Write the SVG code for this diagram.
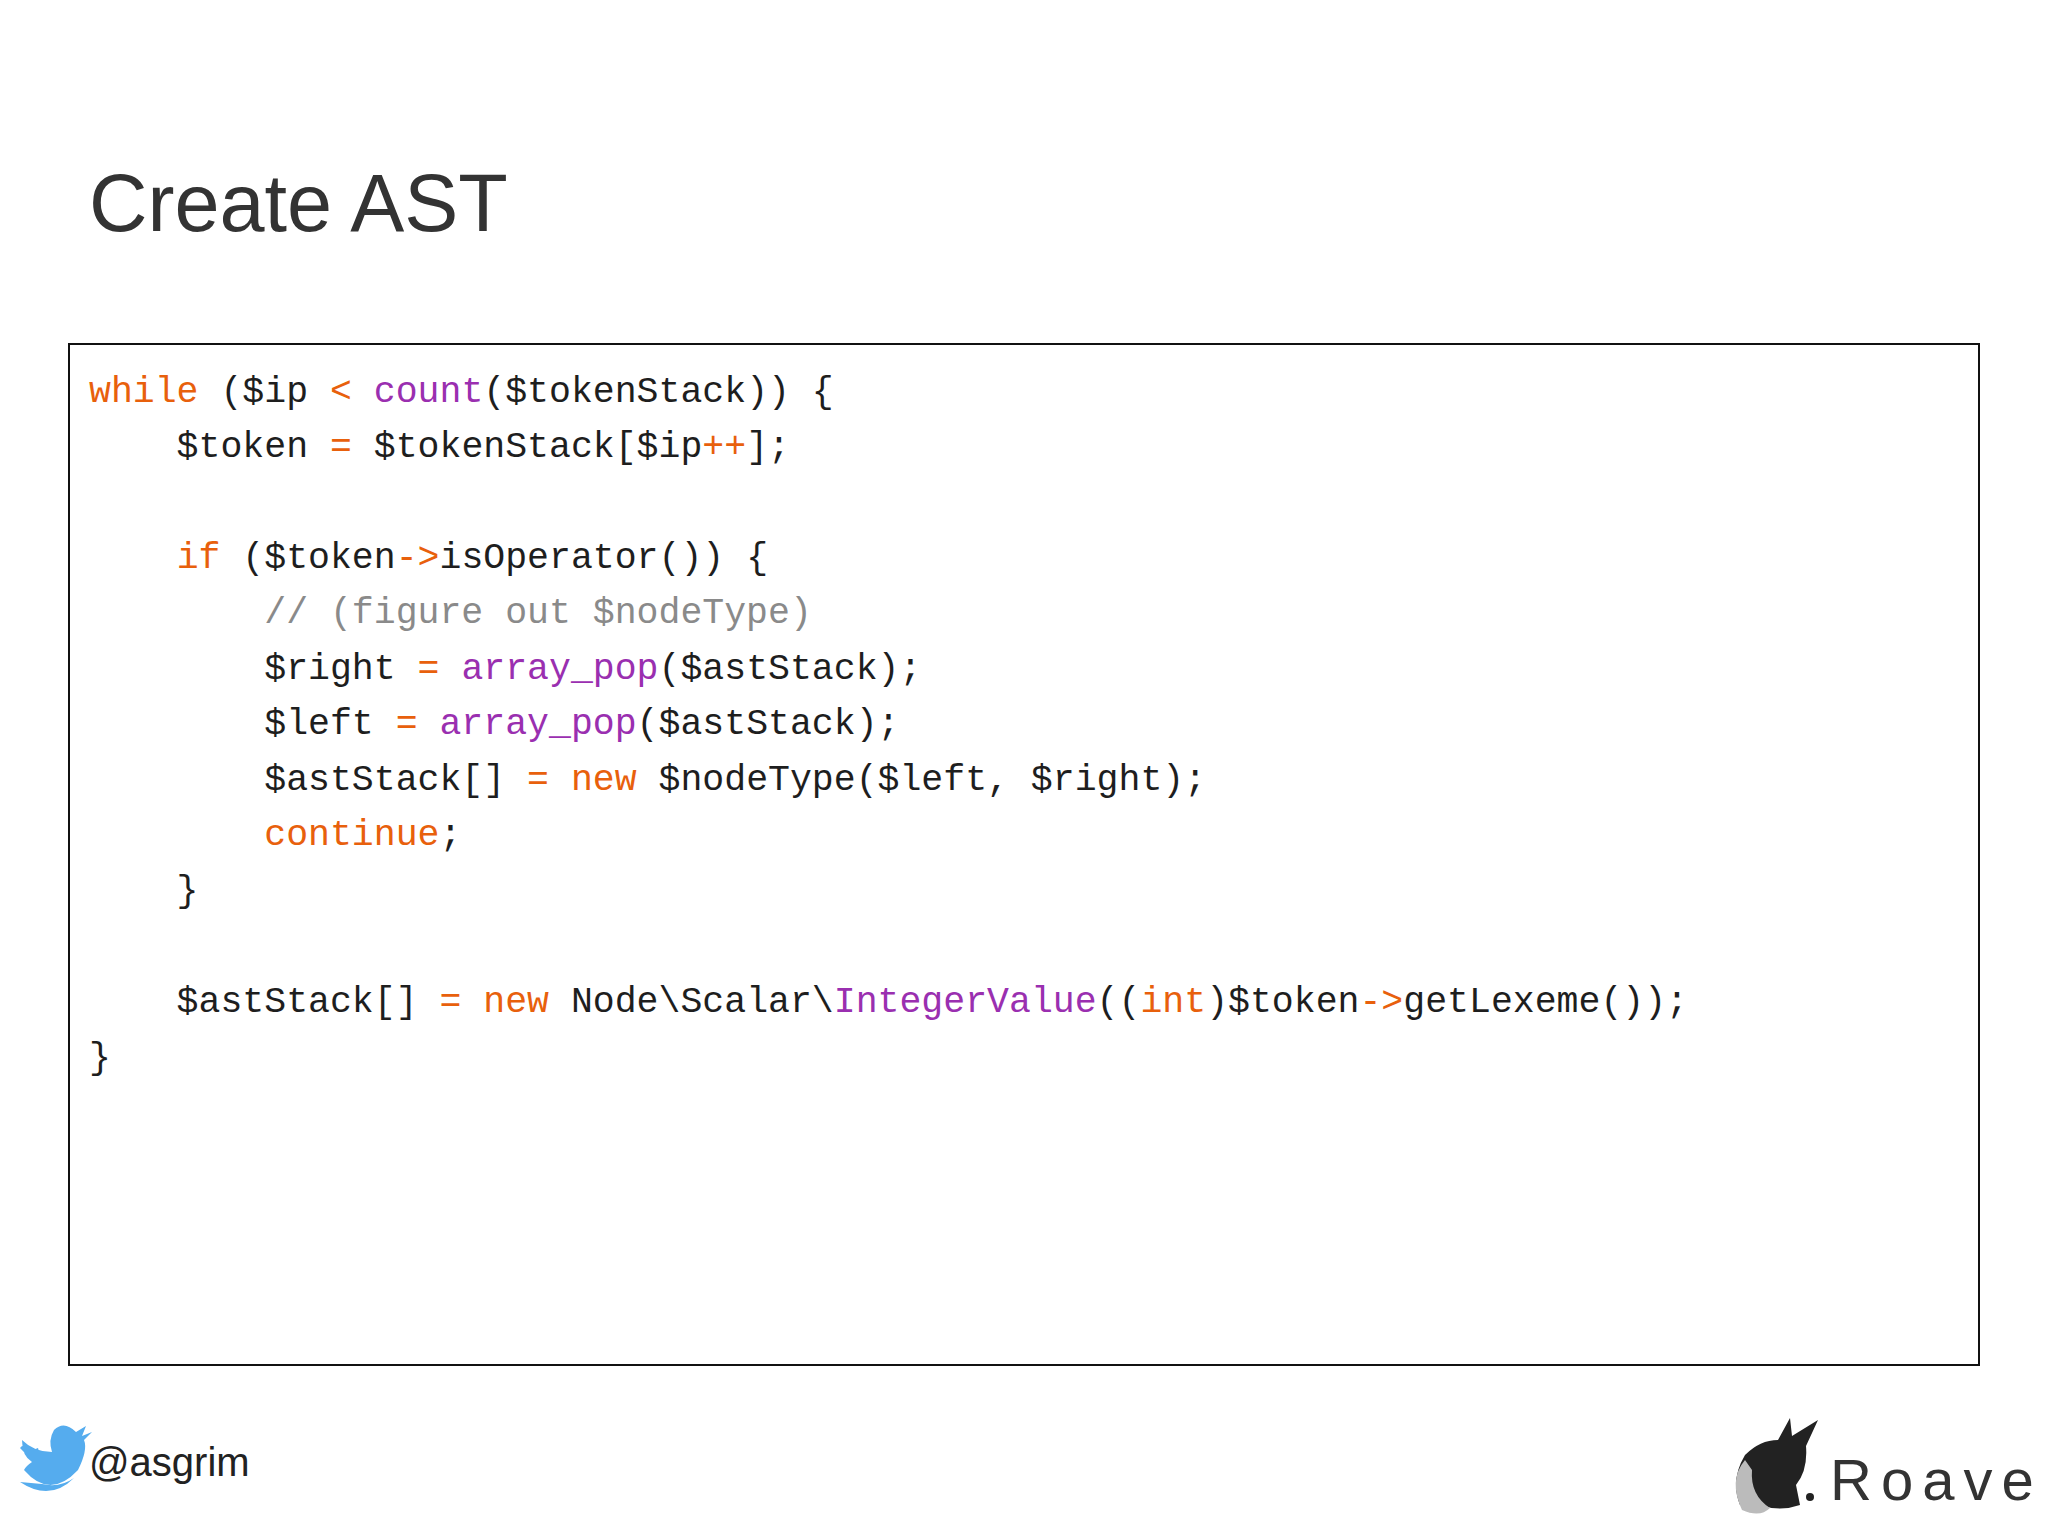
<svg xmlns="http://www.w3.org/2000/svg" width="2048" height="1536" viewBox="0 0 2048 1536">
<style>
.c{font-family:"Liberation Mono","DejaVu Sans Mono",monospace;font-size:36.5px;fill:#1e1e1e;white-space:pre}
.k{fill:#e8600c}.f{fill:#9a2fb0}.m{fill:#8a8a8a}
</style>
<rect width="2048" height="1536" fill="#fff"/>
<text x="89" y="231" font-family="Liberation Sans,Arial,sans-serif" font-size="81" fill="#333">Create AST</text>
<g id="code">
<rect x="69" y="344" width="1910" height="1021" fill="#fff" stroke="#111" stroke-width="2"/>
<text class="c" xml:space="preserve">
<tspan x="89" y="402"><tspan class="k">while</tspan> ($ip <tspan class="k">&lt;</tspan> <tspan class="f">count</tspan>($tokenStack)) {</tspan>
<tspan x="89" y="457">    $token <tspan class="k">=</tspan> $tokenStack[$ip<tspan class="k">++</tspan>];</tspan>
<tspan x="89" y="568">    <tspan class="k">if</tspan> ($token<tspan class="k">-&gt;</tspan>isOperator()) {</tspan>
<tspan x="89" y="623" class="m">        // (figure out $nodeType)</tspan>
<tspan x="89" y="679">        $right <tspan class="k">=</tspan> <tspan class="f">array_pop</tspan>($astStack);</tspan>
<tspan x="89" y="734">        $left <tspan class="k">=</tspan> <tspan class="f">array_pop</tspan>($astStack);</tspan>
<tspan x="89" y="790">        $astStack[] <tspan class="k">=</tspan> <tspan class="k">new</tspan> $nodeType($left, $right);</tspan>
<tspan x="89" y="845">        <tspan class="k">continue</tspan>;</tspan>
<tspan x="89" y="901">    }</tspan>
<tspan x="89" y="1012">    $astStack[] <tspan class="k">=</tspan> <tspan class="k">new</tspan> Node\Scalar\<tspan class="f">IntegerValue</tspan>((<tspan class="k">int</tspan>)$token<tspan class="k">-&gt;</tspan>getLexeme());</tspan>
<tspan x="89" y="1068">}</tspan>
</text>
</g>
<g id="twitter">
<path d="M20 1448 Q40 1470 62 1466 Q40 1460 38 1448 Q30 1452 22 1446 Z M24 1470 Q50 1500 78 1470 Q88 1450 84 1440 L92 1432 L82 1436 L86 1426 L76 1432 Q64 1420 54 1430 Q48 1440 52 1452 Q34 1452 22 1440 Q22 1456 32 1462 Q26 1466 24 1470 Z" fill="#55acee"/>
<path d="M20 1482 Q50 1502 74 1478 Q60 1488 42 1484 Z" fill="#55acee"/>
<text x="89" y="1476" font-family="Liberation Sans,Arial,sans-serif" font-size="40" fill="#222">@asgrim</text>
</g>
<g id="roave">
<path d="M1740 1505 Q1730 1480 1745 1455 Q1760 1440 1778 1440 L1790 1418 L1792 1436 L1818 1420 L1806 1446 Q1808 1470 1796 1485 L1800 1505 Q1780 1512 1760 1505 Z" fill="#222"/>
<path d="M1745 1460 Q1728 1480 1742 1510 Q1760 1518 1770 1508 Q1750 1495 1752 1470 Z" fill="#bbb"/>
<circle cx="1810" cy="1497" r="4" fill="#222"/>
<text x="1830" y="1500" font-family="Liberation Sans,Arial,sans-serif" font-size="58" letter-spacing="9" fill="#333">Roave</text>
</g>
</svg>
